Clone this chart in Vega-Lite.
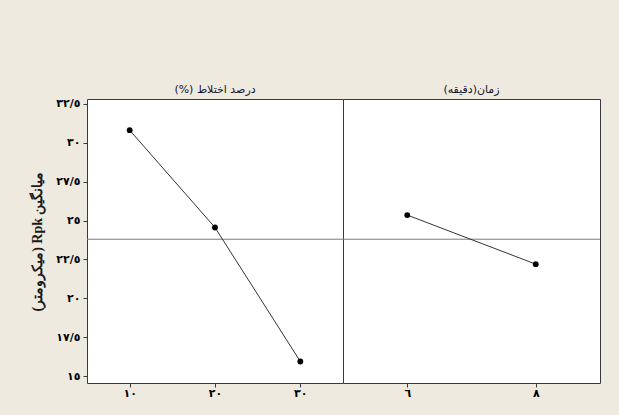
{
  "$schema": "https://vega.github.io/schema/vega-lite/v6.json",
  "background": "#EEEAE0",
  "autosize": {"type": "pad"},
  "padding": {"left": 30, "top": 81, "right": 30, "bottom": 30},
  "datasets": {
    "mixing": [
      {"level": 10, "mean": 30.8},
      {"level": 20, "mean": 24.55},
      {"level": 30, "mean": 15.95}
    ],
    "time": [
      {"level": 6, "mean": 25.35},
      {"level": 8, "mean": 22.2}
    ],
    "grand": [
      {"mean": 23.8}
    ]
  },
  "columns": 2,
  "spacing": 0,
  "bounds": "flush",
  "concat": [
    {
      "width": 256,
      "height": 18,
      "data": {"values": [{"factor": "\u202Bدرصد اختلاط (%)\u202C"}]},
      "mark": {"type": "text", "font": "DejaVu Sans", "fontSize": 11, "color": "#15152a"},
      "encoding": {"text": {"field": "factor"}}
    },
    {
      "width": 257,
      "height": 18,
      "data": {"values": [{"factor": "\u202Bزمان(دقیقه)\u202C"}]},
      "mark": {"type": "text", "font": "DejaVu Sans", "fontSize": 11, "color": "#15152a"},
      "encoding": {"text": {"field": "factor"}}
    },
    {
      "width": 256,
      "height": 284,
      "layer": [
        {
          "data": {"name": "grand"},
          "mark": {"type": "rule", "color": "#7a7a7a", "strokeWidth": 1},
          "encoding": {
            "y": {"field": "mean", "type": "quantitative", "scale": {"domain": [14.57, 32.8], "nice": false, "zero": false}}
          }
        },
        {
          "data": {"name": "mixing"},
          "encoding": {
            "x": {
              "field": "level", "type": "ordinal",
              "scale": {"type": "point", "padding": 0.5},
              "axis": {
                "title": null, "labelAngle": 0, "domain": false,
                "labelExpr": "replace(replace(replace(replace(replace(replace(replace(replace(replace(datum.label,regexp('0','g'),'٠'),regexp('1','g'),'١'),regexp('2','g'),'٢'),regexp('3','g'),'٣'),regexp('5','g'),'٥'),regexp('6','g'),'٦'),regexp('7','g'),'٧'),regexp('8','g'),'٨'),regexp('[.]','g'),'/')"
              }
            },
            "y": {
              "field": "mean", "type": "quantitative",
              "scale": {"domain": [14.57, 32.8], "nice": false, "zero": false},
              "axis": {
                "title": "\u202Bمیانگین Rpk (میکرومتر)\u202C",
                "values": [15, 17.5, 20, 22.5, 25, 27.5, 30, 32.5],
                "format": ".1~f",
                "domain": false,
                "grid": false,
                "labelExpr": "replace(replace(replace(replace(replace(replace(replace(replace(replace(datum.label,regexp('0','g'),'٠'),regexp('1','g'),'١'),regexp('2','g'),'٢'),regexp('3','g'),'٣'),regexp('5','g'),'٥'),regexp('6','g'),'٦'),regexp('7','g'),'٧'),regexp('8','g'),'٨'),regexp('[.]','g'),'/')"
              }
            }
          },
          "layer": [
            {"mark": {"type": "line", "color": "#333333", "strokeWidth": 1}},
            {"mark": {"type": "point", "filled": true, "color": "#000000", "size": 34, "opacity": 1}}
          ]
        }
      ]
    },
    {
      "width": 257,
      "height": 284,
      "layer": [
        {
          "data": {"name": "grand"},
          "mark": {"type": "rule", "color": "#7a7a7a", "strokeWidth": 1},
          "encoding": {
            "y": {"field": "mean", "type": "quantitative", "scale": {"domain": [14.57, 32.8], "nice": false, "zero": false}, "axis": null}
          }
        },
        {
          "data": {"name": "time"},
          "encoding": {
            "x": {
              "field": "level", "type": "ordinal",
              "scale": {"type": "point", "padding": 0.5},
              "axis": {
                "title": null, "labelAngle": 0, "domain": false,
                "labelExpr": "replace(replace(replace(replace(replace(replace(replace(replace(replace(datum.label,regexp('0','g'),'٠'),regexp('1','g'),'١'),regexp('2','g'),'٢'),regexp('3','g'),'٣'),regexp('5','g'),'٥'),regexp('6','g'),'٦'),regexp('7','g'),'٧'),regexp('8','g'),'٨'),regexp('[.]','g'),'/')"
              }
            },
            "y": {
              "field": "mean", "type": "quantitative",
              "scale": {"domain": [14.57, 32.8], "nice": false, "zero": false},
              "axis": null
            }
          },
          "layer": [
            {"mark": {"type": "line", "color": "#333333", "strokeWidth": 1}},
            {"mark": {"type": "point", "filled": true, "color": "#000000", "size": 34, "opacity": 1}}
          ]
        }
      ]
    }
  ],
  "config": {
    "view": {"stroke": "#3a3a3a", "strokeWidth": 1, "fill": "#ffffff"},
    "axis": {
      "grid": false,
      "tickColor": "#3a3a3a",
      "tickSize": 4,
      "labelFont": "DejaVu Sans",
      "labelFontWeight": "bold",
      "labelFontSize": 11,
      "labelColor": "#000000",
      "labelPadding": 3,
      "titleFont": "Liberation Serif",
      "titleFontSize": 14,
      "titleFontWeight": "bold",
      "titleColor": "#1a1a1a",
      "titlePadding": 11
    },
    "axisX": {"labelPadding": 0}
  }
}
